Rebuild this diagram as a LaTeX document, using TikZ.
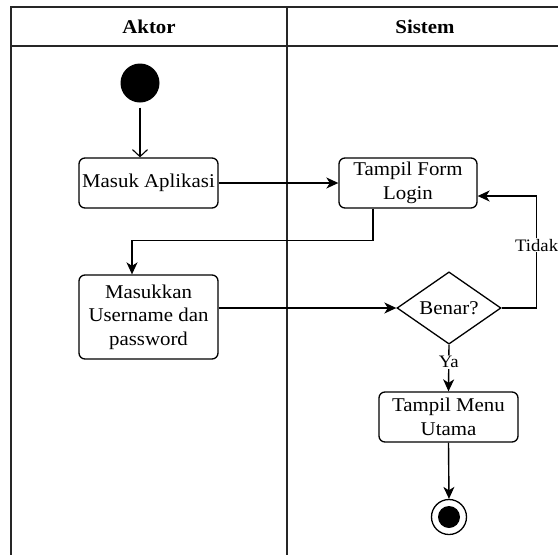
\documentclass[tikz,border=0pt]{standalone}
\usepackage{fontspec}
\setmainfont[FakeStretch=1.07]{Liberation Serif}
\usetikzlibrary{arrows.meta,shapes.geometric}
\begin{document}
\begin{tikzpicture}[x=1pt,y=-1pt,
  lane/.style={line width=1.6pt, draw=black!85},
  act/.style={draw, rounded corners=6pt, line width=1.3pt, align=center,
    inner sep=0pt, font=\fontsize{19.5}{23.5}\selectfont},
  decision/.style={draw, diamond, line width=1.3pt, inner sep=0pt,
    minimum width=104pt, minimum height=66pt, font=\fontsize{19.5}{23.5}\selectfont},
  flow/.style={line width=1.4pt, -{Stealth[length=12pt,width=11pt,inset=3.5pt]}},
  openflow/.style={line width=1.1pt, -{Straight Barb[length=7pt,width=15pt]}},
  guard/.style={fill=white, inner sep=1pt, font=\fontsize{17.5}{20}\selectfont},
  head/.style={font=\fontsize{19.5}{23}\selectfont\bfseries}]
\useasboundingbox (0,0) rectangle (558,555);
\clip (0,0) rectangle (558,555);

% swimlanes
\draw[lane] (11,570) -- (11,7) -- (563,7) -- (563,570);
\draw[lane] (11,46) -- (563,46);
\draw[lane] (287,7) -- (287,570);
\node[head] (aktor) at (149,26.5) {Aktor};
\node[head] (sistem) at (425,26.5) {Sistem};

% initial and final states
\node[circle, fill=black, minimum size=39pt, inner sep=0pt] (start) at (140,83) {};
\node[circle, draw, line width=1.3pt, minimum size=35pt, inner sep=0pt] (stop) at (449,517) {};
\node[circle, fill=black, minimum size=22pt, inner sep=0pt] (stopdot) at (449,517) {};

% activities
\node[act, minimum width=139pt, minimum height=50pt] (masuk) at (148.5,183) {Masuk Aplikasi};
\node[act, minimum width=138pt, minimum height=50pt] (login) at (408,183) {Tampil Form\\Login};
\node[act, minimum width=139pt, minimum height=84pt] (input) at (148.5,317) {Masukkan\\Username dan\\password};
\node[decision] (cek) at (449,308) {Benar?};
\node[act, minimum width=139pt, minimum height=50pt] (menu) at (448.5,417) {Tampil Menu\\Utama};

% transitions
\draw[openflow, shorten <=5pt] (start.south) -- ([xshift=-8.5pt]masuk.north);
\draw[flow] (masuk.east) -- (login.west);
\draw[flow] ([xshift=-35pt]login.south) -- ++(0,32) -| ([xshift=-16.5pt]input.north);
\draw[flow] (input.east |- cek.west) -- (cek.west);
\draw[flow] (cek.east) -- ++(35,0) |- node[guard, pos=0.28] {Tidak} ([yshift=-13pt]login.east);
\draw[flow] (cek.south) -- node[guard, pos=0.37] {Ya} (menu.north);
\draw[flow] (menu.south) -- (stop.north);
\end{tikzpicture}
\end{document}
